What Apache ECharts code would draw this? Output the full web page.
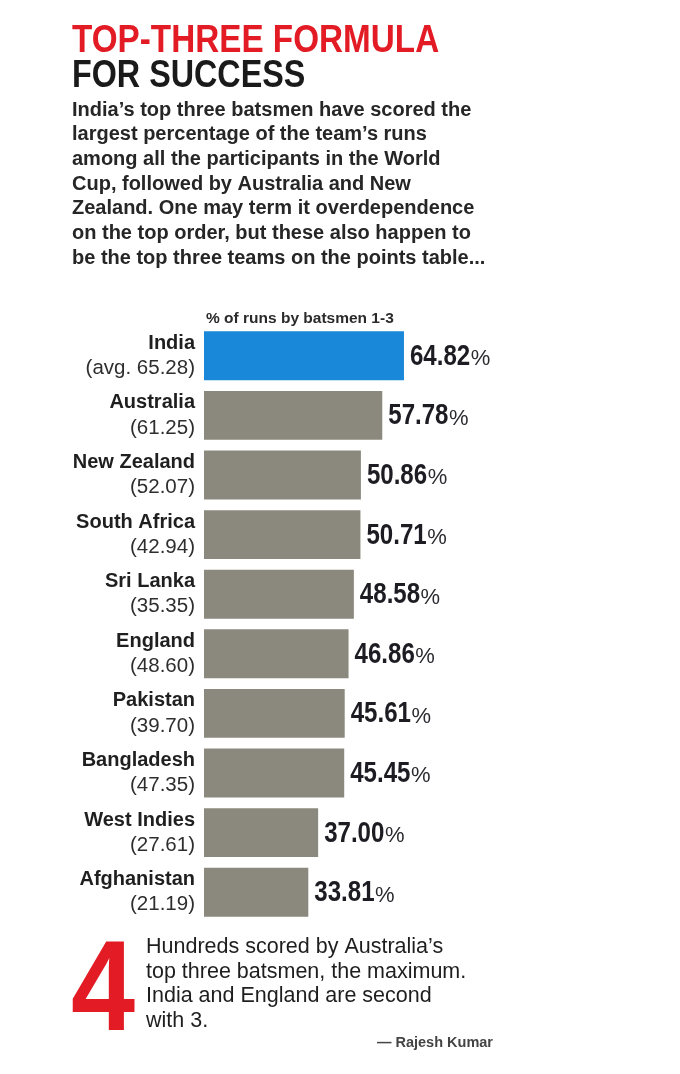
<!DOCTYPE html>
<html>
<head>
<meta charset="utf-8">
<script src="https://cdn.jsdelivr.net/npm/echarts@6/dist/echarts.min.js"></script>
<style>
  html, body { margin: 0; padding: 0; background: #ffffff; }
  #chart { width: 680px; height: 1074px; }
</style>
</head>
<body>
<div id="chart"></div>
<script>
// ---- data ----
const teams = ['India', 'Australia', 'New Zealand', 'South Africa', 'Sri Lanka',
               'England', 'Pakistan', 'Bangladesh', 'West Indies', 'Afghanistan'];
const averages = [65.28, 61.25, 52.07, 42.94, 35.35, 48.60, 39.70, 47.35, 27.61, 21.19];
const pctTop3 = [64.82, 57.78, 50.86, 50.71, 48.58, 46.86, 45.61, 45.45, 37.00, 33.81];
const axisName = '% of runs by batsmen 1-3';
const titleLines = ['TOP-THREE FORMULA', 'FOR SUCCESS'];
const subtitleLines = [
  "India\u2019s top three batsmen have scored the",
  "largest percentage of the team\u2019s runs",
  "among all the participants in the World",
  "Cup, followed by Australia and New",
  "Zealand. One may term it overdependence",
  "on the top order, but these also happen to",
  "be the top three teams on the points table..."
];
const noteNumber = '4';
const noteLines = [
  "Hundreds scored by Australia\u2019s",
  "top three batsmen, the maximum.",
  "India and England are second",
  "with 3."
];
const credit = '\u2014 Rajesh Kumar';

// ---- styles ----
const BLUE = '#1a88d8';
const GRAY = '#8b897e';
const RED = '#e21b24';
const SANS = "'Liberation Sans', Arial, sans-serif";
const VAL_SIZE = 29;
const VAL_SX = 0.83;
const PCT_SIZE = 22;

const measureCtx = document.createElement('canvas').getContext('2d');
function textWidth(t, font) { measureCtx.font = font; return measureCtx.measureText(t).width; }

const chart = echarts.init(document.getElementById('chart'), null, { renderer: 'canvas' });

const graphic = [];
graphic.push({
  type: 'text', x: 72, y: 41, scaleX: 0.853,
  style: { text: titleLines[0], fontFamily: SANS, fontWeight: 'bold', fontSize: 39, fill: RED, verticalAlign: 'middle', align: 'left' }
});
graphic.push({
  type: 'text', x: 72, y: 76.5, scaleX: 0.828,
  style: { text: titleLines[1], fontFamily: SANS, fontWeight: 'bold', fontSize: 39, fill: '#1a1a1a', verticalAlign: 'middle', align: 'left' }
});
subtitleLines.forEach((t, i) => {
  graphic.push({
    type: 'text', x: 72, y: 110 + i * 24.7,
    style: { text: t, fontFamily: SANS, fontWeight: 'bold', fontSize: 20, fill: '#262626', verticalAlign: 'middle', align: 'left' }
  });
});
graphic.push({
  type: 'text', x: 206, y: 319,
  style: { text: axisName, fontFamily: SANS, fontWeight: 'bold', fontSize: 15.5, fill: '#2a2a2a', verticalAlign: 'middle', align: 'left' }
});
graphic.push({
  type: 'text', x: 71, y: 995, scaleX: 0.9,
  style: { text: noteNumber, fontFamily: SANS, fontWeight: 'bold', fontSize: 128, fill: RED, verticalAlign: 'middle', align: 'left' }
});
noteLines.forEach((t, i) => {
  graphic.push({
    type: 'text', x: 146, y: 947.5 + i * 24.5,
    style: { text: t, fontFamily: SANS, fontSize: 21.5, fill: '#1e1e1e', verticalAlign: 'middle', align: 'left' }
  });
});
graphic.push({
  type: 'text', x: 493, y: 1043,
  style: { text: credit, fontFamily: SANS, fontWeight: 'bold', fontSize: 14.5, fill: '#444444', verticalAlign: 'middle', align: 'right' }
});

const option = {
  backgroundColor: '#ffffff',
  animation: false,
  grid: { left: 204, top: 326, width: 246.8, height: 596, containLabel: false },
  xAxis: { type: 'value', min: 0, max: 80, show: false },
  yAxis: {
    type: 'category',
    data: teams,
    inverse: true,
    axisLine: { show: false },
    axisTick: { show: false },
    splitLine: { show: false },
    axisLabel: {
      margin: 9,
      formatter: function (value, index) {
        const a = averages[index].toFixed(2);
        const sub = index === 0 ? '(avg. ' + a + ')' : '(' + a + ')';
        return '{n|' + value + '}\n{s|' + sub + '}';
      },
      rich: {
        n: { fontFamily: SANS, fontWeight: 'bold', fontSize: 20, color: '#1f1f1f', lineHeight: 25, align: 'right' },
        s: { fontFamily: SANS, fontSize: 20.5, color: '#2e2e2e', lineHeight: 25, align: 'right' }
      }
    }
  },
  series: [{
    type: 'bar',
    data: pctTop3.map((v, i) => ({ value: v, itemStyle: { color: i === 0 ? BLUE : GRAY } })),
    barCategoryGap: '18%'
  }, {
    type: 'custom',
    data: pctTop3.map((v, i) => [v, i]),
    encode: { x: 0, y: 1 },
    renderItem: function (params, api) {
      const v = api.value(0);
      const pt = api.coord([v, api.value(1)]);
      const txt = v.toFixed(2);
      const w = textWidth(txt, 'bold ' + VAL_SIZE + 'px ' + SANS) * VAL_SX;
      const x0 = pt[0] + 6;
      const cy = pt[1] + 1;
      const baseline = cy + 0.3465 * VAL_SIZE;
      return {
        type: 'group',
        children: [{
          type: 'text', x: x0, y: cy, scaleX: VAL_SX,
          style: { text: txt, fontFamily: SANS, fontWeight: 'bold', fontSize: VAL_SIZE, fill: '#1c1c22', verticalAlign: 'middle', align: 'left' }
        }, {
          type: 'text', x: x0 + w + 0.5, y: baseline - 0.3465 * PCT_SIZE,
          style: { text: '%', fontFamily: SANS, fontSize: PCT_SIZE, fill: '#2a2a30', verticalAlign: 'middle', align: 'left' }
        }]
      };
    }
  }],
  graphic: graphic
};
chart.setOption(option);
</script>
</body>
</html>
